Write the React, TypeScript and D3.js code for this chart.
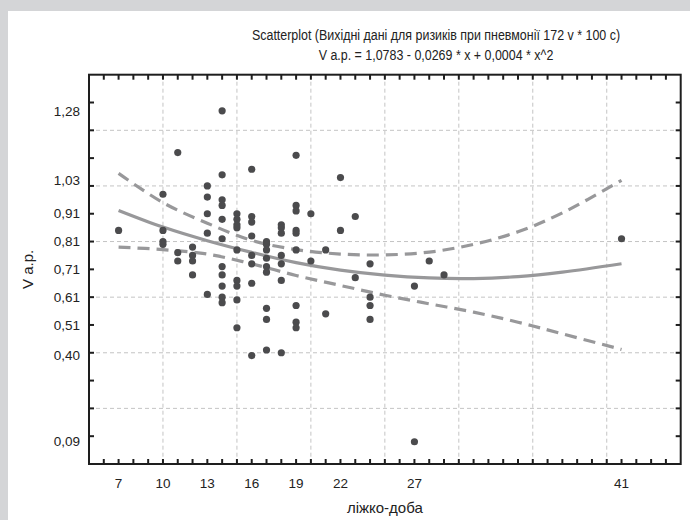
import React from 'react';
import * as d3 from 'd3';

// bed-days (x) and V a.p. (y) for each observation, grouped by column
const bedDays = [
  7,
  10, 10, 10, 10,
  11, 11, 11,
  12, 12, 12, 12,
  13, 13, 13, 13, 13,
  14, 14, 14, 14, 14, 14, 14, 14, 14, 14, 14,
  15, 15, 15, 15, 15, 15, 15, 15, 15,
  16, 16, 16, 16, 16, 16, 16, 16,
  17, 17, 17, 17, 17, 17, 17, 17, 17,
  18, 18, 18, 18, 18, 18, 18,
  19, 19, 19, 19, 19, 19, 19, 19, 19,
  20, 20,
  21, 21,
  22, 22,
  23, 23,
  24, 24, 24, 24,
  27, 27,
  28,
  29,
  41,
];
const vap = [
  0.85,
  0.98, 0.85, 0.81, 0.80,
  1.13, 0.77, 0.74,
  0.79, 0.76, 0.74, 0.69,
  1.01, 0.97, 0.91, 0.84, 0.62,
  1.28, 1.05, 0.96, 0.94, 0.89, 0.82, 0.72, 0.69, 0.65, 0.61, 0.59,
  0.91, 0.89, 0.87, 0.86, 0.78, 0.67, 0.65, 0.60, 0.50,
  1.07, 0.90, 0.88, 0.83, 0.76, 0.73, 0.66, 0.40,
  0.81, 0.80, 0.78, 0.75, 0.72, 0.70, 0.57, 0.53, 0.42,
  0.87, 0.86, 0.84, 0.76, 0.73, 0.67, 0.41,
  1.12, 0.94, 0.92, 0.85, 0.84, 0.78, 0.58, 0.52, 0.50,
  0.91, 0.74,
  0.78, 0.55,
  1.04, 0.85,
  0.90, 0.68,
  0.73, 0.61, 0.58, 0.53,
  0.65, 0.09,
  0.74,
  0.69,
  0.82,
];

// fitted curve and 95% band
const fitX = [7, 10, 13, 16, 19, 22, 25, 28, 31, 34, 37, 41];
const fitY = [0.922, 0.862, 0.813, 0.771, 0.734, 0.707, 0.689, 0.679, 0.677, 0.684, 0.7, 0.73];
const upperY = [1.055, 0.95, 0.876, 0.814, 0.781, 0.765, 0.762, 0.772, 0.8, 0.845, 0.913, 1.03];
const lowerY = [0.79, 0.781, 0.765, 0.73, 0.688, 0.652, 0.617, 0.586, 0.556, 0.52, 0.478, 0.422];

const xTickLabels = [7, 10, 13, 16, 19, 22, 27, 41];
const yTickLabels = [1.28, 1.03, 0.91, 0.81, 0.71, 0.61, 0.51, 0.4, 0.09];

const W = 690;
const H = 520;
const L = 89, R = 680.7, T = 74.7, B = 464;
const FONT = '"Liberation Sans", Arial, sans-serif';

export default function App() {
  const x = d3.scaleLinear().domain([5, 45]).range([L, R]);
  const y = d3.scaleLinear().domain([0.01, 1.41]).range([B, T]);

  const xMinor = d3.range(6, 45);
  const xGrid = d3.range(10, 45, 5);
  const yMinor = d3.range(1, 14).map(k => 0.01 + k * 0.1);
  const yGrid = [0.21, 0.41, 0.61, 0.81, 1.01, 1.21];

  const line = d3.line<number>()
    .x((d, i) => x(fitX[i]))
    .y(d => y(d))
    .curve(d3.curveCatmullRom);

  const fmt = (v: number) => v.toFixed(2).replace('.', ',');
  const gray = '#98989a';

  return (
    <svg width={W} height={H} style={{ position: 'fixed', left: 0, top: 0 }} fontFamily={FONT}>
      <rect x={0} y={0} width={W} height={H} fill="#fff" />
      <rect x={0} y={0} width={W} height={11} fill="#d4d5d7" />
      <rect x={0} y={0} width={8} height={H} fill="#d4d5d7" />

      {/* title is condensed horizontally in the original */}
      <g transform="translate(436,0) scale(0.83,1)">
        <text x={0} y={40} textAnchor="middle" fontSize={15} fill="#222">
          Scatterplot (Вихідні дані для ризиків при пневмонії 172 v * 100 c)
        </text>
        <text x={0} y={60} textAnchor="middle" fontSize={15} fill="#222">
          V a.p. = 1,0783 - 0,0269 * x + 0,0004 * x^2
        </text>
      </g>

      {/* grid */}
      {xGrid.map(v => (
        <line key={'gx' + v} x1={x(v)} x2={x(v)} y1={T} y2={B} stroke="#c4c4c4" strokeDasharray="4,3" />
      ))}
      {yGrid.map(v => (
        <line key={'gy' + v} x1={L} x2={R} y1={y(v)} y2={y(v)} stroke="#c4c4c4" strokeDasharray="4,3" />
      ))}

      {/* fit + band */}
      <path d={line(upperY) || ''} fill="none" stroke={gray} strokeWidth={3.2} strokeDasharray="12,7" />
      <path d={line(lowerY) || ''} fill="none" stroke={gray} strokeWidth={3.2} strokeDasharray="12,7" />
      <path d={line(fitY) || ''} fill="none" stroke={gray} strokeWidth={3.2} />

      {vap.map((v, i) => (
        <circle key={i} cx={x(bedDays[i])} cy={y(v)} r={3.6} fill="#4b4b4d" />
      ))}

      {/* frame and ticks */}
      <rect x={L} y={T} width={R - L} height={B - T} fill="none" stroke="#1e1e1e" strokeWidth={2} />
      {xMinor.map(v => (
        <g key={'tx' + v} stroke="#1e1e1e" strokeWidth={2}>
          <line x1={x(v)} x2={x(v)} y1={B} y2={B - 5} />
          <line x1={x(v)} x2={x(v)} y1={T} y2={T + 5} />
        </g>
      ))}
      {yMinor.map(v => (
        <g key={'ty' + v} stroke="#1e1e1e" strokeWidth={2}>
          <line x1={L} x2={L + 5} y1={y(v)} y2={y(v)} />
          <line x1={R} x2={R - 5} y1={y(v)} y2={y(v)} />
        </g>
      ))}

      {xTickLabels.map(v => (
        <text key={'lx' + v} x={x(v)} y={488} textAnchor="middle" fontSize={13.5} fill="#222">{v}</text>
      ))}
      {yTickLabels.map(v => (
        <text key={'ly' + v} x={80} y={y(v)} dy="0.35em" textAnchor="end" fontSize={13.5} fill="#222">{fmt(v)}</text>
      ))}

      <text x={(L + R) / 2} y={513} textAnchor="middle" fontSize={15} fill="#222">ліжко-доба</text>
      <text transform={`translate(33,${(T + B) / 2}) rotate(-90)`} textAnchor="middle" fontSize={15} fill="#222">V a.p.</text>
    </svg>
  );
}
